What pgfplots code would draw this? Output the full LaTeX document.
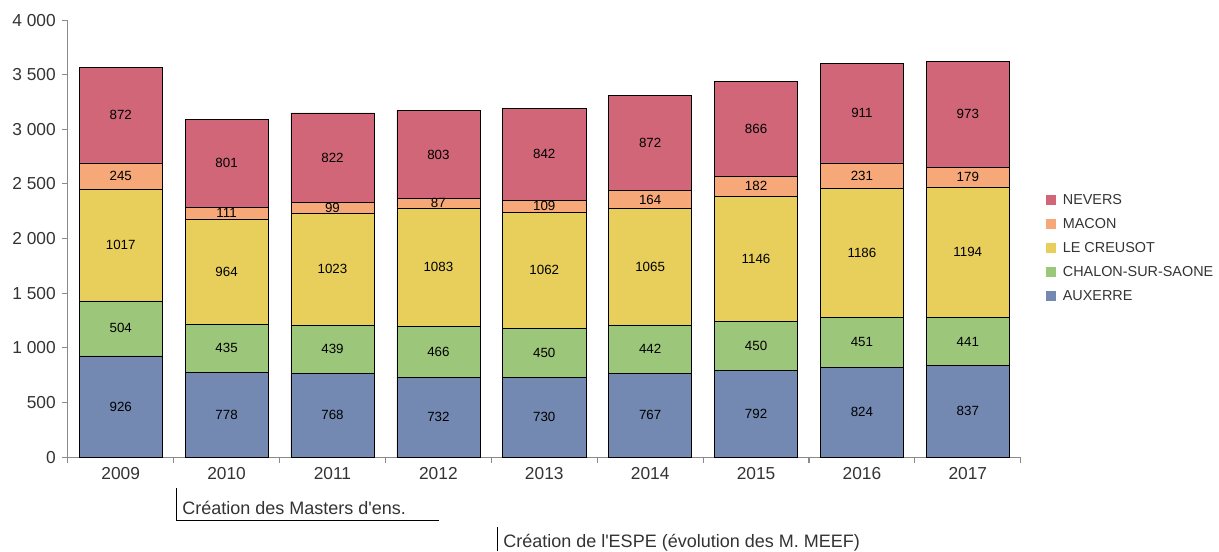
\documentclass[border=0pt]{standalone}
\usepackage{fontspec}
\setmainfont{Liberation Sans}
\newfontfamily\annfont{Liberation Sans}
\usepackage{pgfplots}
\pgfplotsset{compat=1.18}
\definecolor{cNev}{HTML}{D16678}
\definecolor{cMac}{HTML}{F6A878}
\definecolor{cCre}{HTML}{E8CF5C}
\definecolor{cCha}{HTML}{9CC67A}
\definecolor{cAux}{HTML}{7389B2}
\definecolor{edgec}{HTML}{5F5555}
\definecolor{axgray}{HTML}{8A8A8A}
\definecolor{txtgray}{HTML}{333333}
\begin{document}
\begin{tikzpicture}[x=0.75pt,y=0.75pt]
\useasboundingbox (0,0) rectangle (1219,551);
\begin{axis}[
  at={(64,86)}, anchor=south west,
  scale only axis, width=714.75pt, height=327.75pt,
  ybar stacked, bar width=0.785,
  xmin=-0.5, xmax=8.5, ymin=0, ymax=4000,
  axis lines*=left,
  axis line style={color=axgray, line width=0.8pt},
  xtick={-0.5,0.5,1.5,2.5,3.5,4.5,5.5,6.5,7.5,8.5},
  x tick label as interval,
  xticklabels={2009,2010,2011,2012,2013,2014,2015,2016,2017},
  ytick={0,500,1000,1500,2000,2500,3000,3500,4000},
  tick align=outside, major tick length=4.5pt,
  tick style={color=axgray, line width=0.8pt},
  /pgf/number format/assume math mode=true,
  yticklabel style={/pgf/number format/1000 sep={\ }, xshift=-1pt},
  ticklabel style={font=\fontsize{13}{15}\selectfont, text=txtgray},
  every bar/.append style={draw=edgec, line width=0.6pt},
  point meta=rawy,
  nodes near coords={\pgfmathprintnumber[1000 sep={}]{\pgfplotspointmeta}},
  every node near coord/.append style={anchor=center, font=\fontsize{10}{12}\selectfont, text=black},
  reverse legend,
  legend cell align=left,
  legend style={at={(1.026,0.478)}, anchor=west, draw=none, fill=none,
    font=\fontsize{10.8}{12}\selectfont, text=txtgray, inner sep=0pt, row sep=5pt},
  legend image code/.code={\path[#1, draw=none] (0pt,-3.9pt) rectangle (7.8pt,3.9pt); \path[draw=none, fill=none] (0pt,0pt) -- (10.8pt,0pt);},
]
\addplot[fill=cAux] coordinates {(0,926) (1,778) (2,768) (3,732) (4,730) (5,767) (6,792) (7,824) (8,837)};
\addlegendentry{AUXERRE}
\addplot[fill=cCha] coordinates {(0,504) (1,435) (2,439) (3,466) (4,450) (5,442) (6,450) (7,451) (8,441)};
\addlegendentry{CHALON-SUR-SAONE}
\addplot[fill=cCre] coordinates {(0,1017) (1,964) (2,1023) (3,1083) (4,1062) (5,1065) (6,1146) (7,1186) (8,1194)};
\addlegendentry{LE CREUSOT}
\addplot[fill=cMac] coordinates {(0,245) (1,111) (2,99) (3,87) (4,109) (5,164) (6,182) (7,231) (8,179)};
\addlegendentry{MACON}
\addplot[fill=cNev] coordinates {(0,872) (1,801) (2,822) (3,803) (4,842) (5,872) (6,866) (7,911) (8,973)};
\addlegendentry{NEVERS}
\end{axis}
\draw[black, line width=0.75pt] (176,63) -- (176,31) -- (439,31);
\node[anchor=west, inner sep=0pt, font=\annfont\fontsize{13.5}{15}\selectfont, text=txtgray] at (182,43) {Création des Masters d'ens.};
\draw[black, line width=0.75pt] (497,24) -- (497,0);
\node[anchor=west, inner sep=0pt, font=\annfont\fontsize{13.5}{15}\selectfont, text=txtgray] at (503,8) {Création de l'ESPE (évolution des M. MEEF)};
\end{tikzpicture}
\end{document}
